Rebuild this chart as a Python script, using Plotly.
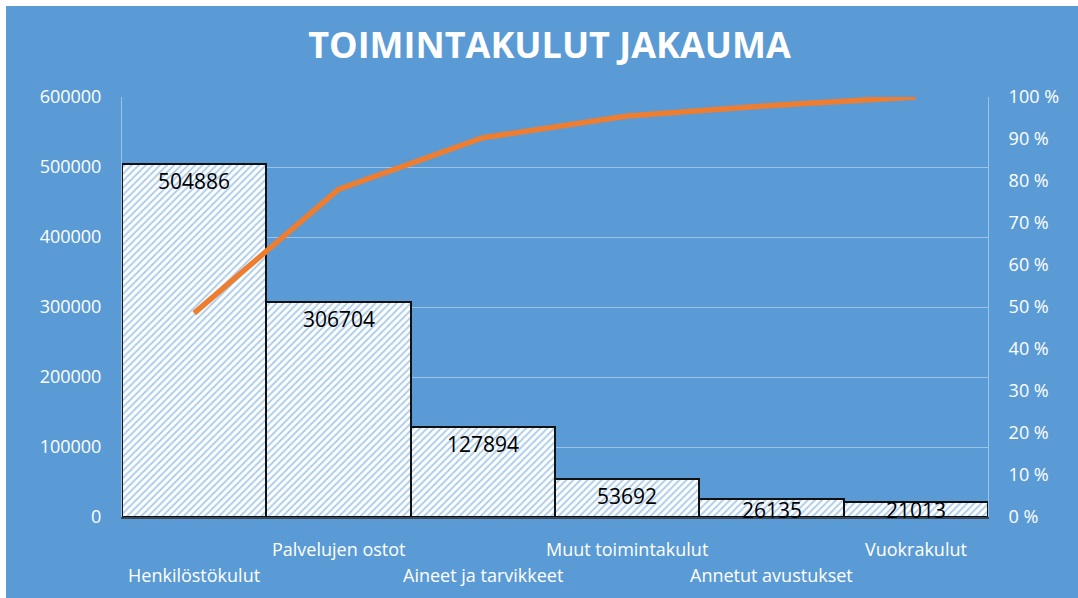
import plotly.graph_objects as go
import numpy as np

categories = ["Henkilöstökulut", "Palvelujen ostot", "Aineet ja tarvikkeet",
              "Muut toimintakulut", "Annetut avustukset", "Vuokrakulut"]
values = [504886, 306704, 127894, 53692, 26135, 21013]
left_ticks = [0, 100000, 200000, 300000, 400000, 500000, 600000]
right_ticks = [i / 10 for i in range(11)]
right_ticktext = [f"{i * 10} %" for i in range(11)]
title_text = "TOIMINTAKULUT JAKAUMA"

cum_pct = list(np.cumsum(values) / sum(values))

BLUE = "#5B9BD5"
ORANGE = "#ED7D31"
FONT = "Open Sans"

fig = go.Figure()
fig.add_trace(go.Bar(
    x=categories, y=values,
    marker=dict(color="white",
                line=dict(color="#111111", width=2),
                pattern=dict(shape="/", fgcolor=BLUE, bgcolor="white",
                             size=5, solidity=0.4)),
    hoverinfo="skip", showlegend=False,
))
fig.add_trace(go.Scatter(
    x=categories, y=cum_pct, yaxis="y2", mode="lines",
    line=dict(color=ORANGE, width=5.5), showlegend=False,
))

# value labels (inside end)
for c, v in zip(categories, values):
    fig.add_annotation(x=c, y=max(v, 34000), xref="x", yref="y", text=str(v),
                       showarrow=False, yanchor="top", yshift=-1,
                       font=dict(family=FONT, size=21, color="black"))

# staggered category labels
for i, c in enumerate(categories):
    fig.add_annotation(x=c, y=0, xref="x", yref="paper", text=c,
                       showarrow=False, yanchor="middle",
                       yshift=-58 if i % 2 == 0 else -32,
                       font=dict(family=FONT, size=18, color="white"))

fig.update_layout(
    width=1072, height=592,
    margin=dict(l=116, r=90, t=91, b=81),
    paper_bgcolor=BLUE, plot_bgcolor=BLUE,
    bargap=0,
    title=dict(text=f"<b>{title_text}</b>", x=0.507, xanchor="center",
               y=1 - 39 / 592, yanchor="middle", yref="container",
               font=dict(family=FONT, size=36, color="white")),
    xaxis=dict(showticklabels=False, showline=True, linecolor="#3A4656",
               linewidth=1.5, showgrid=False, ticks="",
               range=[-0.5, 5.5], zeroline=False),
    yaxis=dict(range=[0, 600000], tickvals=left_ticks,
               ticktext=[str(t) for t in left_ticks],
               showgrid=True, gridcolor="rgba(255,255,255,0.4)", gridwidth=1,
               showline=True, linecolor="rgba(255,255,255,0.4)", linewidth=1,
               zeroline=False, ticks="", ticklabelstandoff=16,
               tickfont=dict(family=FONT, size=18, color="white")),
    yaxis2=dict(range=[0, 1], tickvals=right_ticks, ticktext=right_ticktext,
                overlaying="y", side="right", showgrid=False,
                showline=True, linecolor="rgba(255,255,255,0.4)", linewidth=1,
                zeroline=False, ticks="", ticklabelstandoff=16,
                tickfont=dict(family=FONT, size=18, color="white")),
)

fig.write_html("out.html",
               post_script="document.body.style.margin='6px 0 0 6px';"
                           "document.body.style.overflow='hidden';")
